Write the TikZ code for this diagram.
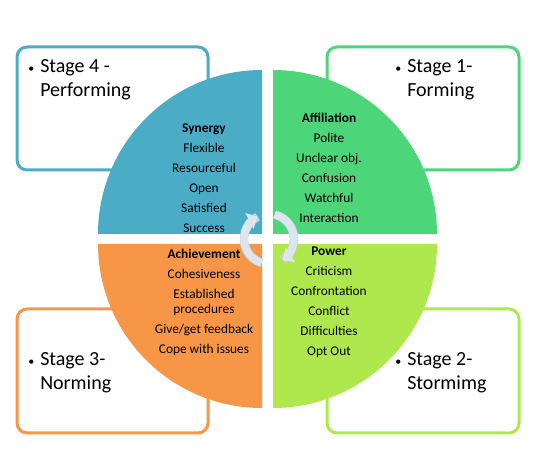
\documentclass[tikz,border=0pt]{standalone}
\usepackage{fontspec}
\setmainfont{Carlito}
\usetikzlibrary{arrows.meta}
\definecolor{synergy}{HTML}{4BACC6}
\definecolor{affil}{HTML}{4DD57A}
\definecolor{achieve}{HTML}{F79646}
\definecolor{power}{HTML}{AEE84D}
\definecolor{turncol}{HTML}{DDE5EF}
\definecolor{turnedge}{HTML}{C9D3E0}
\tikzstyle{stagebox}=[line width=2.25pt,rounded corners=7.5pt,fill=white]
\tikzstyle{stagetext}=[font=\fontsize{15}{18}\selectfont,align=left,anchor=west,inner sep=0pt]
\tikzstyle{quadtext}=[font=\fontsize{10}{11.25}\selectfont,align=center,inner sep=0pt]
\tikzstyle{turn}=[line width=5.5pt,draw=turncol,-{Triangle[width=13pt,length=7pt]}]
\newcommand{\stageitem}[2]{\makebox[9pt][l]{\small\textbullet}#1\\\hspace*{9pt}#2}

\begin{document}
\begin{tikzpicture}[x=.75pt, y=-.75pt]

	\useasboundingbox (0,0) rectangle (554,466);

	%boxes
	\draw[stagebox, draw=synergy] (17,47) rectangle (208,170);
	\draw[stagebox, draw=affil] (327,47) rectangle (519,170);
	\draw[stagebox, draw=achieve] (17,309) rectangle (208,433);
	\draw[stagebox, draw=power] (327,309) rectangle (519,433);

	%quadrants
	\fill[synergy] (262,234) -- (98,234) arc[start angle=180, end angle=270, radius=164] -- cycle;
	\fill[affil] (273,234) -- (273,70) arc[start angle=270, end angle=360, radius=164] -- cycle;
	\fill[achieve] (262,244) -- (262,408) arc[start angle=90, end angle=180, radius=164] -- cycle;
	\fill[power] (273,244) -- (437,244) arc[start angle=0, end angle=90, radius=164] -- cycle;

	\node[stagetext] (stage4) at (28,80) {\stageitem{Stage 4 -}{Performing}};
	\node[stagetext] (stage1) at (395,80) {\stageitem{Stage 1-}{Forming}};
	\node[stagetext] (stage3) at (28,373) {\stageitem{Stage 3-}{Norming}};
	\node[stagetext] (stage2) at (395,373) {\stageitem{Stage 2-}{Stormimg}};

	\node[quadtext] (synergy) at (204,178) {\textbf{Synergy}\\[3.75pt] Flexible\\[3.75pt] Resourceful\\[3.75pt]
	Open\\[3.75pt] Satisfied\\[3.75pt] Success};
	\node[quadtext] (affiliation) at (329,168) {\textbf{Affiliation}\\[3.75pt] Polite\\[3.75pt] Unclear obj.\\[3.75pt]
	Confusion\\[3.75pt] Watchful\\[3.75pt] Interaction};
	\node[quadtext] (achievement) at (204,302) {\textbf{Achievement}\\[3.75pt] Cohesiveness\\[3.75pt] Established\\
	procedures\\[3.75pt] Give/get feedback\\[3.75pt] Cope with issues};
	\node[quadtext] (power) at (329,302) {\textbf{Power}\\[3.75pt] Criticism\\[3.75pt] Confrontation\\[3.75pt]
	Conflict\\[3.75pt] Difficulties\\[3.75pt] Opt Out};

	%cycle arrows
	\draw[turn, preaction={draw=turnedge, line width=6.5pt, -}] (269,239) ++(107:25) arc[start angle=107, end angle=243, radius=25];
	\draw[turn, preaction={draw=turnedge, line width=6.5pt, -}] (269,239) ++(283:25) arc[start angle=283, end angle=417, radius=25];
\end{tikzpicture}
\end{document}
